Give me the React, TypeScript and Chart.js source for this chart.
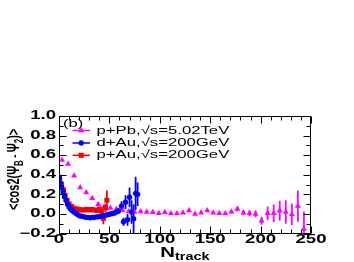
import React, { useEffect, useRef } from "react";
import { Chart, registerables } from "chart.js";

Chart.register(...registerables);

// p+Pb, sqrt(s)=5.02 TeV (magenta triangles)
const pPbN = [3, 9, 15, 21, 27, 33, 39, 45, 51, 57, 63, 69, 75, 81, 87, 93, 99, 105, 111, 117, 123, 129, 135, 141, 147, 153, 159, 165, 171, 177, 183, 189, 195, 201, 207, 213, 219, 225, 231, 237, 243];
const pPbV = [0.55, 0.51, 0.39, 0.27, 0.22, 0.16, 0.10, 0.075, 0.06, 0.05, 0.04, 0.025, 0.02, 0.025, 0.02, 0.017, 0.006, 0.017, 0.003, 0.003, 0.013, 0.034, 0.0, 0.013, 0.034, 0.013, 0.007, 0.003, 0.023, 0.05, 0.013, 0.007, 0.0, -0.07, 0.007, 0.007, 0.034, 0.02, -0.003, 0.08, -0.155];
const pPbE = [0.01, 0.01, 0.01, 0.01, 0.01, 0.01, 0.01, 0.01, 0.01, 0.01, 0.01, 0.01, 0.01, 0.01, 0.01, 0.01, 0.01, 0.01, 0.01, 0.01, 0.01, 0.01, 0.01, 0.01, 0.01, 0.01, 0.01, 0.01, 0.015, 0.025, 0.025, 0.027, 0.034, 0.04, 0.07, 0.09, 0.10, 0.12, 0.11, 0.16, 0.18];

// d+Au, sqrt(s)=200 GeV (blue circles)
const dAuN = [0.5, 1.5, 2.7, 4, 5.5, 7, 8.5, 10, 11.5, 13, 15, 17, 19, 21, 23, 25, 27, 29, 31, 33, 35, 37, 39, 41, 43, 45, 47, 49, 51, 53, 55, 57, 59, 62, 64, 66, 68, 70, 72, 74, 76, 78];
const dAuV = [0.365, 0.32, 0.27, 0.225, 0.175, 0.14, 0.10, 0.07, 0.05, 0.035, 0.02, 0.005, -0.01, -0.02, -0.025, -0.03, -0.035, -0.035, -0.04, -0.035, -0.035, -0.03, -0.03, -0.025, -0.02, -0.015, -0.01, -0.005, 0.0, 0.005, 0.01, 0.02, 0.03, 0.08, -0.08, 0.12, -0.06, 0.17, 0.02, -0.05, 0.21, 0.20];
const dAuE = [0.006, 0.006, 0.006, 0.006, 0.006, 0.006, 0.006, 0.006, 0.006, 0.006, 0.006, 0.006, 0.006, 0.006, 0.006, 0.006, 0.006, 0.006, 0.006, 0.006, 0.006, 0.006, 0.006, 0.006, 0.006, 0.006, 0.006, 0.006, 0.012, 0.015, 0.02, 0.025, 0.03, 0.05, 0.04, 0.07, 0.06, 0.10, 0.12, 0.15, 0.17, 0.12];

// p+Au, sqrt(s)=200 GeV (red squares)
const pAuN = [0.5, 2.5, 4.5, 6, 8, 10, 12.5, 15, 17.5, 20, 22.5, 25, 27.5, 30, 32.5, 35, 37.5, 40, 42, 44, 46, 47.5];
const pAuV = [0.375, 0.30, 0.245, 0.19, 0.14, 0.10, 0.075, 0.057, 0.05, 0.045, 0.04, 0.04, 0.045, 0.04, 0.045, 0.04, 0.035, 0.05, 0.03, -0.045, 0.06, 0.14];
const pAuE = [0.01, 0.01, 0.01, 0.01, 0.01, 0.01, 0.01, 0.01, 0.01, 0.01, 0.01, 0.01, 0.01, 0.01, 0.012, 0.012, 0.015, 0.02, 0.03, 0.06, 0.04, 0.10];

const xTicks = [0, 50, 100, 150, 200, 250];
const xTickLabels = ["0", "50", "100", "150", "200", "250"];
const yTicks = [-0.2, 0.0, 0.2, 0.4, 0.6, 0.8, 1.0];
const yTickLabels = ["\u22120.2", "0.0", "0.2", "0.4", "0.6", "0.8", "1.0"];
const legendLabels = ["p+Pb,\u221As=5.02TeV", "d+Au,\u221As=200GeV", "p+Au,\u221As=200GeV"];
const panelLabel = "(b)";

const MAGENTA = "#ff00ff";
const BLUE = "#0000ff";
const RED = "#ff0000";
const FONT = "'Liberation Sans', Arial, sans-serif";

function stretchedText(ctx: CanvasRenderingContext2D, text: string, x: number, y: number, font: string, sx: number, align: CanvasTextAlign, baseline: CanvasTextBaseline) {
  ctx.save();
  ctx.font = font;
  ctx.textAlign = align;
  ctx.textBaseline = baseline;
  ctx.translate(x, y);
  ctx.scale(sx, 1);
  ctx.fillText(text, 0, 0);
  ctx.restore();
}

function drawMarker(ctx: CanvasRenderingContext2D, style: string, x: number, y: number, r: number, color: string) {
  ctx.save();
  ctx.fillStyle = color;
  ctx.beginPath();
  if (style === "triangle") {
    ctx.moveTo(x, y - r);
    ctx.lineTo(x + r * 0.866, y + r / 2);
    ctx.lineTo(x - r * 0.866, y + r / 2);
    ctx.closePath();
  } else if (style === "circle") {
    ctx.arc(x, y, r, 0, Math.PI * 2);
  } else {
    const s = r * Math.SQRT1_2;
    ctx.rect(x - s, y - s, 2 * s, 2 * s);
  }
  ctx.fill();
  ctx.restore();
}

const rootPlugin = {
  id: "rootStyle",
  beforeDatasetsDraw(chart: any) {
    const { ctx, chartArea: a, scales } = chart;
    const xs = scales.x;
    const ys = scales.y;
    ctx.save();
    ctx.beginPath();
    ctx.rect(a.left, a.top, a.right - a.left, a.bottom - a.top);
    ctx.clip();
    chart.data.datasets.forEach((ds: any) => {
      const errs: number[] = ds.errors;
      if (!errs) return;
      ctx.strokeStyle = ds.pointBackgroundColor;
      ctx.lineWidth = 1.8;
      ds.data.forEach((p: any, i: number) => {
        const px = xs.getPixelForValue(p.x);
        ctx.beginPath();
        ctx.moveTo(px, ys.getPixelForValue(p.y - errs[i]));
        ctx.lineTo(px, ys.getPixelForValue(p.y + errs[i]));
        ctx.stroke();
      });
    });
    ctx.restore();
  },
  afterDraw(chart: any) {
    const { ctx, chartArea: a, scales } = chart;
    const xs = scales.x;
    const ys = scales.y;
    ctx.save();
    ctx.strokeStyle = "#000";
    ctx.lineWidth = 1;
    const L = Math.round(a.left) + 0.5;
    const R = Math.round(a.right) - 0.5;
    const T = Math.round(a.top) + 0.5;
    const B = Math.round(a.bottom) - 0.5;
    ctx.beginPath();
    ctx.moveTo(L, T);
    ctx.lineTo(R, T);
    ctx.lineTo(R, B);
    ctx.lineTo(L, B);
    ctx.closePath();
    ctx.stroke();
    // x ticks
    ctx.beginPath();
    for (let v = 0; v <= 250; v += 10) {
      const px = Math.round(xs.getPixelForValue(v)) + 0.5;
      const len = v % 50 === 0 ? 7 : 4;
      ctx.moveTo(px, B);
      ctx.lineTo(px, B - len);
      ctx.moveTo(px, T);
      ctx.lineTo(px, T + len);
    }
    // y ticks
    for (let k = -2; k <= 10; k++) {
      const v = k / 10;
      const py = Math.round(ys.getPixelForValue(v)) + 0.5;
      const len = k % 2 === 0 ? 7 : 4;
      ctx.moveTo(L, py);
      ctx.lineTo(L + len, py);
      ctx.moveTo(R, py);
      ctx.lineTo(R - len, py);
    }
    ctx.stroke();

    ctx.fillStyle = "#000";
    // tick labels
    const tickFont = `bold 12px ${FONT}`;
    yTicks.forEach((v, i) => {
      stretchedText(ctx, yTickLabels[i], 56, ys.getPixelForValue(v), tickFont, 1.55, "right", "middle");
    });
    xTicks.forEach((v, i) => {
      stretchedText(ctx, xTickLabels[i], xs.getPixelForValue(v), a.bottom + 6, tickFont, 1.55, "center", "middle");
    });

    // x title N_track
    const sxT = 1.45;
    ctx.font = `bold 14px ${FONT}`;
    const wN = ctx.measureText("N").width * sxT;
    ctx.font = `bold 10px ${FONT}`;
    const wSub = ctx.measureText("track").width * sxT;
    const cx = (a.left + a.right) / 2;
    const x0 = cx - (wN + wSub) / 2;
    stretchedText(ctx, "N", x0, 257, `bold 14px ${FONT}`, sxT, "left", "alphabetic");
    stretchedText(ctx, "track", x0 + wN, 259.5, `bold 10px ${FONT}`, sxT, "left", "alphabetic");

    // y title <cos2(Psi_B - Psi_2)>
    ctx.save();
    ctx.translate(19, 210);
    ctx.rotate(-Math.PI / 2);
    ctx.scale(1, 1.5);
    ctx.textAlign = "left";
    ctx.textBaseline = "alphabetic";
    const pieces: [string, number, number][] = [
      ["<cos2(\u03A8", 11, 0],
      ["B", 8, 2.5],
      [" - ", 9, 0],
      ["\u03A8", 11, 0],
      ["2", 8, 2.5],
      [")>", 11, 0],
    ];
    let px = 0;
    pieces.forEach(([t, size, dy]) => {
      ctx.font = `bold ${size}px ${FONT}`;
      ctx.fillText(t, px, dy);
      px += ctx.measureText(t).width;
    });
    ctx.restore();

    // legend
    const legFont = `11px ${FONT}`;
    stretchedText(ctx, panelLabel, 63, 123.5, legFont, 1.5, "left", "middle");
    const entries = [
      { color: MAGENTA, style: "triangle", r: 3.5, y: 130.5 },
      { color: BLUE, style: "circle", r: 2.7, y: 143 },
      { color: RED, style: "rect", r: 3.6, y: 155.3 },
    ];
    entries.forEach((e, i) => {
      ctx.strokeStyle = e.color;
      ctx.lineWidth = 1.5;
      ctx.beginPath();
      ctx.moveTo(72.5, e.y);
      ctx.lineTo(90, e.y);
      ctx.stroke();
      drawMarker(ctx, e.style, 81.2, e.y, e.r, e.color);
      ctx.fillStyle = "#000";
      stretchedText(ctx, legendLabels[i], 96.5, e.y, legFont, 1.52, "left", "middle");
    });
    ctx.restore();
  },
};

function pts(xs: number[], ys: number[]) {
  return xs.map((x, i) => ({ x, y: ys[i] }));
}

export default function App() {
  const ref = useRef<HTMLCanvasElement | null>(null);
  useEffect(() => {
    if (!ref.current) return;
    const chart = new Chart(ref.current, {
      type: "scatter",
      data: {
        datasets: [
          {
            label: legendLabels[1],
            data: pts(dAuN, dAuV),
            errors: dAuE,
            pointStyle: "circle",
            pointRadius: 2.7,
            pointBackgroundColor: BLUE,
            pointBorderColor: BLUE,
            pointBorderWidth: 0,
            showLine: false,
          } as any,
          {
            label: legendLabels[2],
            data: pts(pAuN, pAuV),
            errors: pAuE,
            pointStyle: "rect",
            pointRadius: 3.6,
            pointBackgroundColor: RED,
            pointBorderColor: RED,
            pointBorderWidth: 0,
            showLine: false,
          } as any,
          {
            label: legendLabels[0],
            data: pts(pPbN, pPbV),
            errors: pPbE,
            pointStyle: "triangle",
            pointRadius: 3.5,
            pointBackgroundColor: MAGENTA,
            pointBorderColor: MAGENTA,
            pointBorderWidth: 0,
            showLine: false,
          } as any,
        ],
      },
      options: {
        responsive: false,
        devicePixelRatio: 1,
        animation: false,
        layout: { padding: { top: 116, right: 43, left: 0, bottom: 0 } },
        plugins: { legend: { display: false }, tooltip: { enabled: false }, title: { display: false } },
        scales: {
          x: {
            type: "linear",
            min: 0,
            max: 250,
            grid: { display: false },
            border: { display: false },
            ticks: { display: false },
            afterFit: (s: any) => {
              s.height = 28.5;
            },
          },
          y: {
            type: "linear",
            min: -0.2,
            max: 1.0,
            grid: { display: false },
            border: { display: false },
            ticks: { display: false },
            afterFit: (s: any) => {
              s.width = 59;
            },
          },
        },
      } as any,
      plugins: [rootPlugin],
    });
    return () => chart.destroy();
  }, []);
  return (
    <div style={{ position: "absolute", left: 0, top: 0, width: 354, height: 262, background: "#fff" }}>
      <canvas ref={ref} width={354} height={262} style={{ display: "block", width: 354, height: 262 }} />
    </div>
  );
}
